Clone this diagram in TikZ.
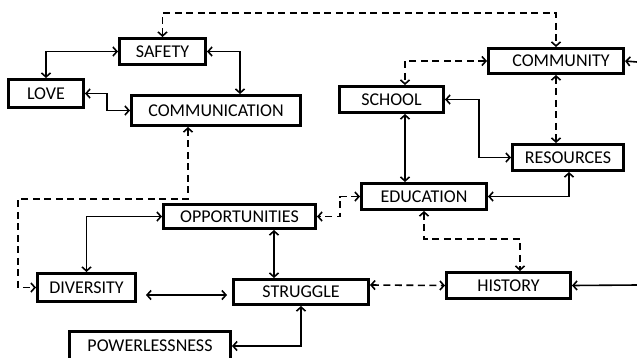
\documentclass[tikz,border=0pt]{standalone}
\usepackage{fontspec}
\setmainfont{Carlito}
\usetikzlibrary{arrows.meta,calc}
\begin{document}
\begin{tikzpicture}[x=1pt,y=-1pt,
  box/.style={draw, line width=3pt, inner sep=0pt, font=\fontsize{18}{21}\selectfont},
  conn/.style={line width=1.6pt, {Straight Barb[length=4pt,width=9pt]}-{Straight Barb[length=4pt,width=9pt]}},
  dconn/.style={conn, dash pattern=on 7pt off 4.5pt},
  sconn/.style={line width=1.6pt, -{Straight Barb[length=4pt,width=9pt]}}]
\clip (0,0) rectangle (637,357);
\useasboundingbox (0,0) rectangle (637,357);
\fill[white] (0,0) rectangle (637,357);
% nodes
\node[box, minimum width=86pt, minimum height=26pt] (safety) at (162.5,51.5) {SAFETY\hspace{6pt}};
\node[box, minimum width=75pt, minimum height=28pt] (love) at (46,93.5) {LOVE};
\node[box, minimum width=169pt, minimum height=30pt] (comm) at (216,110.5) {COMMUNICATION\hspace{6pt}};
\node[box, minimum width=135pt, minimum height=25pt] (community) at (556,61) {\hspace{10pt}COMMUNITY};
\node[box, minimum width=104pt, minimum height=26pt] (school) at (391.5,99.5) {SCHOOL\hspace{6pt}};
\node[box, minimum width=111pt, minimum height=26pt] (resources) at (568,157.5) {RESOURCES};
\node[box, minimum width=125pt, minimum height=26pt] (education) at (424,196.5) {EDUCATION\hspace{6pt}};
\node[box, minimum width=152pt, minimum height=24pt] (opp) at (239.5,216.5) {OPPORTUNITIES};
\node[box, minimum width=98pt, minimum height=28pt] (diversity) at (86.5,287.5) {DIVERSITY};
\node[box, minimum width=135pt, minimum height=25pt] (struggle) at (301,292) {STRUGGLE};
\node[box, minimum width=124pt, minimum height=26pt] (history) at (508.5,285.5) {HISTORY};
\node[box, minimum width=161pt, minimum height=29pt] (power) at (150,346) {POWERLESSNESS};
% helper coordinates
\coordinate (bendL) at (18,199);
\coordinate (edgeA) at (637,62);
\coordinate (edgeB) at (637,285);
% connectors
\draw[dconn] (safety.north) -- ++(0,-24) -| (community.north);
\draw[conn] (safety.west) -| (love.north);
\draw[conn] (safety.east) -| ([xshift=110pt]comm.north west);
\draw[conn] (love.east) -- ++(22,0) |- (comm.west);
\draw[dconn] ([xshift=58pt]comm.south west) |- (bendL) |- (diversity.west);
\draw[dconn] (community.west) -| ([xshift=67pt]school.north west);
\draw[dconn] (community.south) -- (community.south |- resources.north);
\draw[conn] (school.east) -- ++(34,0) |- (resources.west);
\draw[conn] ([xshift=67pt]school.south west) -- ([xshift=67pt]school.south west |- education.north);
\draw[conn] (education.east) -| ([xshift=58pt]resources.south west);
\draw[dconn] (education.west) -- ++(-20,0) |- (opp.east);
\draw[dconn] (education.south) -- ++(0,28) -| ([xshift=75pt]history.north west);
\draw[conn] (opp.west) -| (diversity.north);
\draw[conn] ([xshift=112pt]opp.south west) -- ([xshift=112pt]opp.south west |- struggle.north);
\draw[conn] ([xshift=9pt,yshift=-7.5pt]diversity.east) -- ([xshift=-5pt,yshift=-3pt]struggle.west);
\draw[dconn] ([yshift=7pt]struggle.east) -- (history.west);
\draw[conn] (struggle.south) |- (power.east);
\draw[sconn] (edgeA) -- (community.east);
\draw[sconn] (edgeB) -- (history.east);
\end{tikzpicture}
\end{document}
